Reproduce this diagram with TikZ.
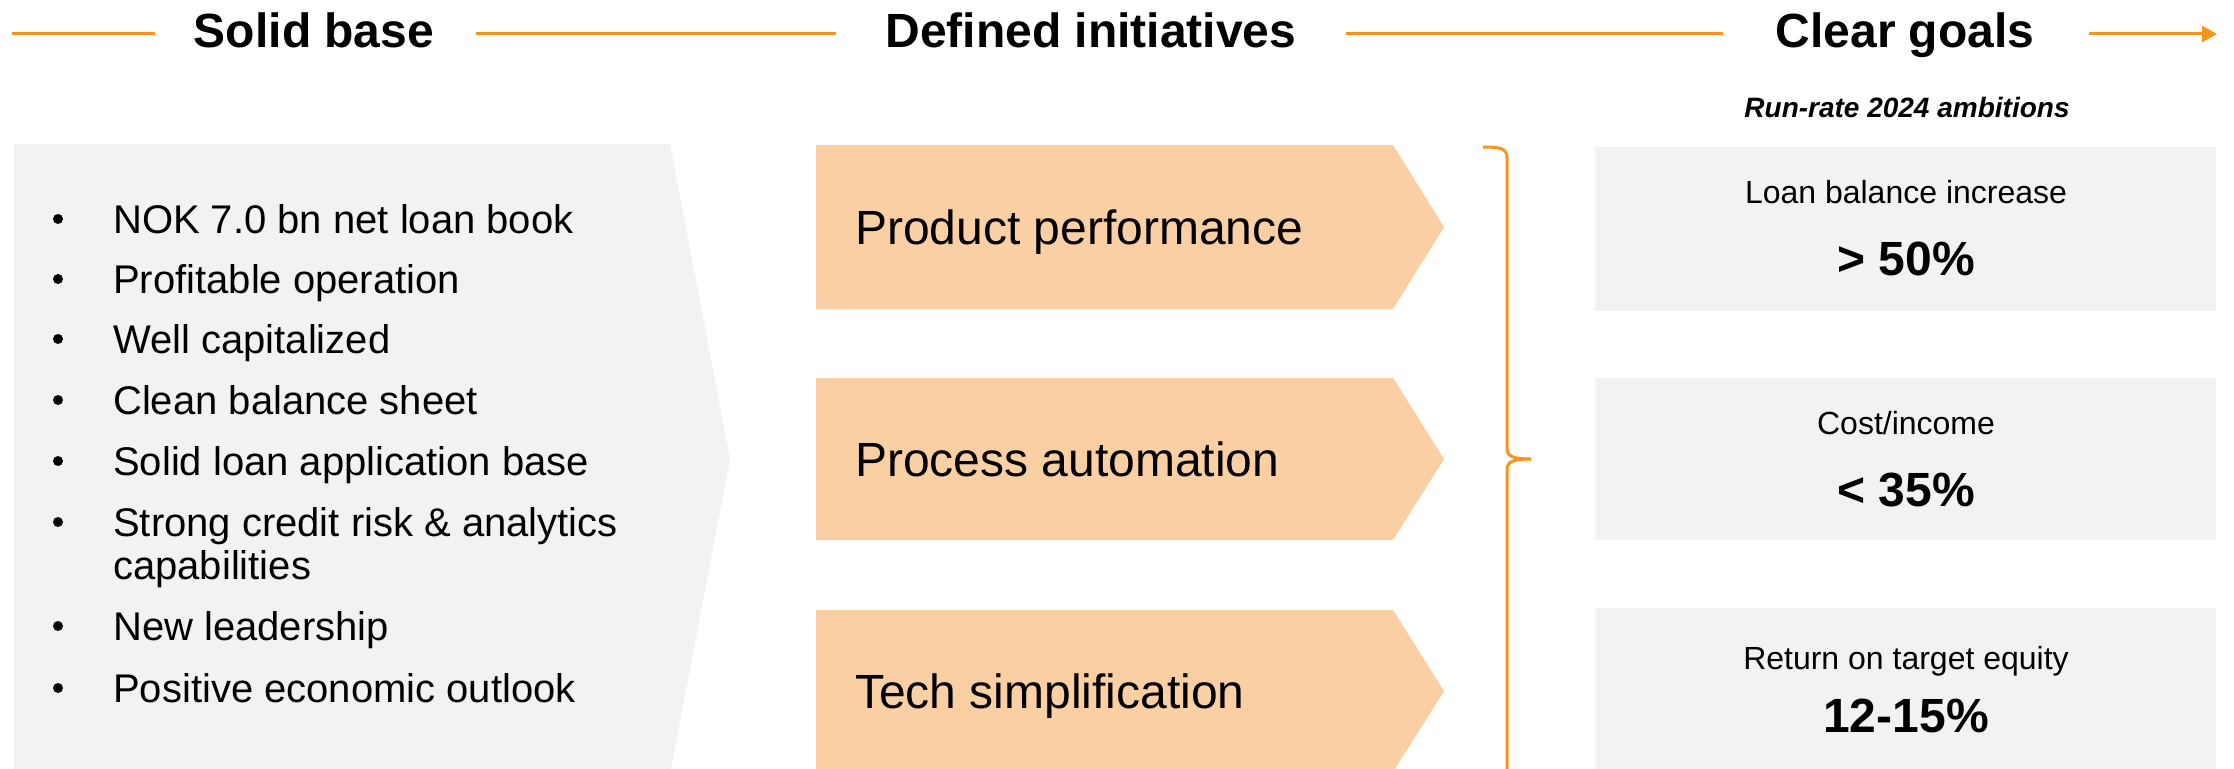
\documentclass[tikz,border=0pt]{standalone}
\usepackage{fontspec}
\setmainfont{Liberation Sans}
\usetikzlibrary{arrows.meta,calc}
\definecolor{orng}{HTML}{F7931E}
\definecolor{peach}{HTML}{FACFA3}
\definecolor{lgray}{HTML}{F2F2F2}
\tikzset{
  hdr/.style={font=\fontsize{48}{58}\selectfont\bfseries, anchor=base, inner sep=0pt},
  hline/.style={draw=orng, line width=3pt},
  bul/.style={font=\fontsize{40}{46}\selectfont, anchor=base west, inner sep=0pt},
  bdot/.style={circle, fill=black, inner sep=0pt, minimum size=10pt},
  inittext/.style={font=\fontsize{48}{58}\selectfont, anchor=base west, inner sep=0pt},
  initbox/.style={fill=peach},
  goalbox/.style={fill=lgray},
  goallabel/.style={font=\fontsize{32}{38}\selectfont, anchor=base, inner sep=0pt},
  goalvalue/.style={font=\fontsize{48}{58}\selectfont\bfseries, anchor=base, inner sep=0pt},
  bracestyle/.style={draw=orng, line width=3pt},
}
\begin{document}
\begin{tikzpicture}[x=1pt,y=-1pt]
\clip (0,0) rectangle (2234,768);
\fill[white] (0,0) rectangle (2234,768);

% header
\node[hdr] (solid) at (314,48) {Solid base};
\node[hdr] (defined) at (1091,48) {Defined initiatives};
\node[hdr] (clear) at (1905,48) {Clear goals};
\coordinate (l1a) at (12,34);
\coordinate (l1b) at (155,34);
\coordinate (l2a) at (476,34);
\coordinate (l2b) at (836,34);
\coordinate (l3a) at (1346,34);
\coordinate (l3b) at (1723,34);
\coordinate (l4a) at (2089,34);
\coordinate (l4b) at (2217,34);
\draw[hline] (l1a) -- (l1b);
\draw[hline] (l2a) -- (l2b);
\draw[hline] (l3a) -- (l3b);
\draw[hline, -{Triangle[length=15pt,width=16pt]}] (l4a) -- (l4b);

% left gray chevron
\fill[lgray] (14,144) -- (670,144) -- (730,459) -- (670,774) -- (14,774) -- cycle;
\node[bdot] (b1) at (58,219) {};
\node[bul] (t1) at (113,233) {NOK 7.0 bn net loan book};
\node[bdot] (b2) at (58,279) {};
\node[bul] (t2) at (113,293) {Profitable operation};
\node[bdot] (b3) at (58,339) {};
\node[bul] (t3) at (113,353) {Well capitalized};
\node[bdot] (b4) at (58,400) {};
\node[bul] (t4) at (113,414) {Clean balance sheet};
\node[bdot] (b5) at (58,461) {};
\node[bul] (t5) at (113,475) {Solid loan application base};
\node[bdot] (b6) at (58,522) {};
\node[bul] (t6) at (113,536) {Strong credit risk \& analytics};
\node[bul] (t6b) at (113,579) {capabilities};
\node[bdot] (b7) at (58,626) {};
\node[bul] (t7) at (113,640) {New leadership};
\node[bdot] (b8) at (58,688) {};
\node[bul] (t8) at (113,702) {Positive economic outlook};

% initiatives
\fill[initbox] (816,145) -- (1393,145) -- (1444,227) -- (1393,309) -- (816,309) -- cycle;
\node[inittext] (i1) at (855,244) {Product performance};
\fill[initbox] (816,378) -- (1393,378) -- (1444,459) -- (1393,540) -- (816,540) -- cycle;
\node[inittext] (i2) at (855,476) {Process automation};
\fill[initbox] (816,610) -- (1393,610) -- (1444,691) -- (1393,772) -- (816,772) -- cycle;
\node[inittext] (i3) at (855,708) {Tech simplification};

% brace
\coordinate (br0) at (1483,147);
\coordinate (brtip) at (1531,459);
\coordinate (brend) at (1507,790);
\draw[bracestyle] (br0) .. controls (1500,147) and (1507,148) .. (1507,158) -- (1507,448)
  .. controls (1507,456) and (1512,459) .. (brtip);
\draw[bracestyle] (brtip) .. controls (1512,459) and (1507,462) .. (1507,470) -- (brend);

% goals
\node[font=\fontsize{28}{34}\selectfont\bfseries\itshape, anchor=base, inner sep=0pt] (rr) at (1907,117) {Run-rate 2024 ambitions};
\fill[goalbox] (1595,147) rectangle (2216,311);
\node[goallabel] (g1l) at (1906,203) {Loan balance increase};
\node[goalvalue] (g1v) at (1906,275) {> 50\%};
\fill[goalbox] (1595,378) rectangle (2216,540);
\node[goallabel] (g2l) at (1906,434) {Cost/income};
\node[goalvalue] (g2v) at (1906,506) {< 35\%};
\fill[goalbox] (1595,608) rectangle (2216,772);
\node[goallabel] (g3l) at (1906,669) {Return on target equity};
\node[goalvalue] (g3v) at (1906,732) {12-15\%};
\end{tikzpicture}
\end{document}
